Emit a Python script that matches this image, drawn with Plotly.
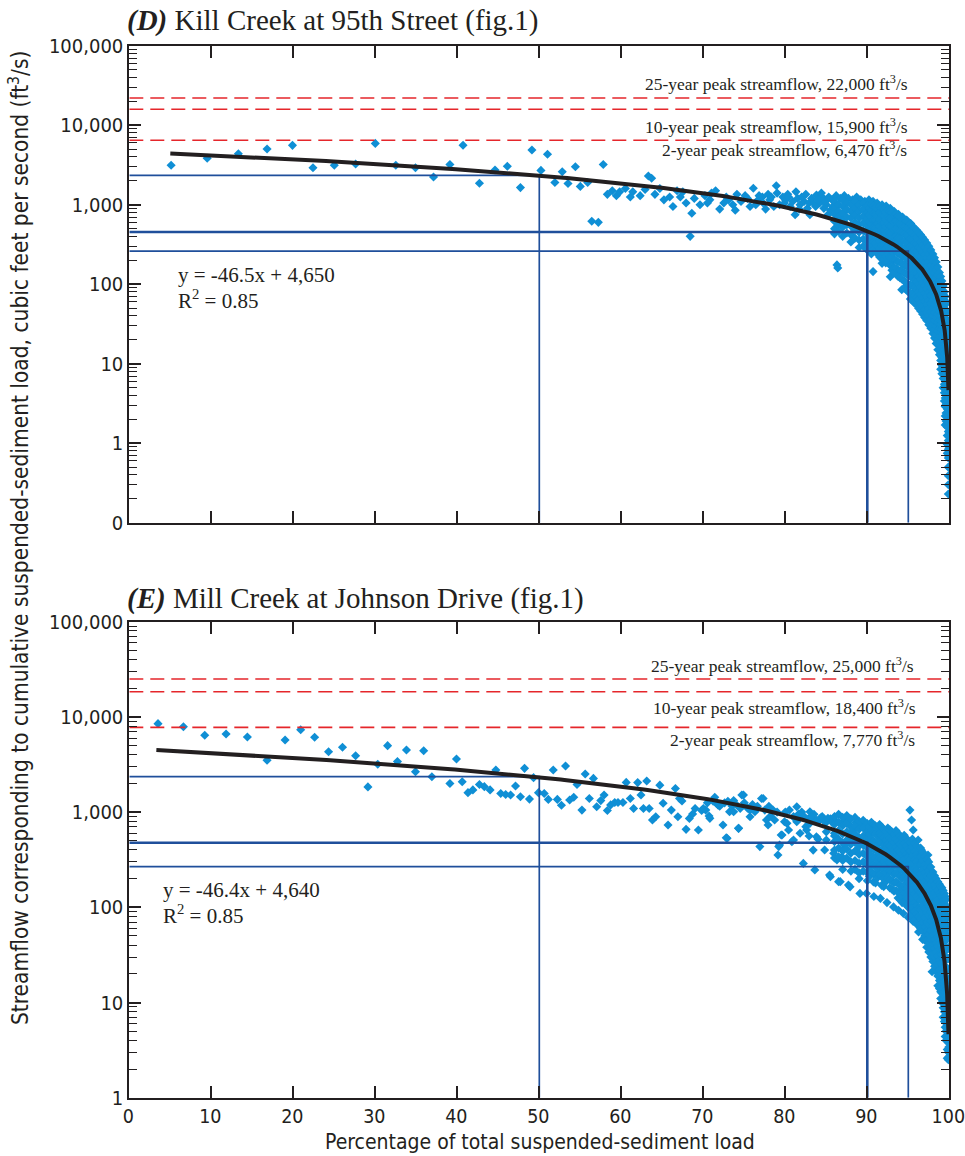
import numpy as np
import plotly.graph_objects as go

W, H = 965, 1156

# ---------------- Kill Creek at 95th Street ----------------
# scattered daily values (percent of total load, streamflow ft3/s)
kill_pct = [
    5.1, 9.5, 13.3, 16.8, 19.9, 22.4, 25.0, 27.6, 30.0, 32.5, 34.9, 37.1, 39.1, 40.7,
    42.7, 44.6, 46.1, 47.7, 49.1, 50.2, 51.0,
    51.9, 52.8, 53.5, 54.4, 55.0, 55.9, 56.4, 57.2, 57.8, 58.3, 58.9, 59.4, 59.8, 60.5,
    61.1, 61.4, 62.3, 62.9, 63.3, 63.7, 64.1, 64.7, 65.2, 65.9, 66.3, 66.8, 67.2, 67.5,
    67.9, 68.4, 68.6, 68.9, 69.6, 70.2, 70.8, 71.5, 72.0, 72.5, 73.1, 73.6, 74.1, 74.6,
    75.1, 75.7, 76.1, 76.7, 77.2, 77.6, 78.1, 78.9, 79.3, 80.0, 80.6, 81.2, 81.8, 82.3,
    83.0, 83.8, 84.2, 84.7, 85.2, 85.7, 86.3, 86.4,
    70.5, 71.0, 72.8, 73.9, 75.4, 76.4, 77.9, 79.7, 80.3, 81.5, 82.7, 83.4, 84.5, 85.0, 85.5,
    76.8, 77.3, 78.3, 78.6, 79.0, 79.9, 80.4, 80.9, 81.3, 81.7, 82.0, 82.5, 82.9, 83.2,
    83.7, 84.0, 84.4, 84.9, 85.3, 85.8, 86.2, 86.7, 87.2, 87.7, 88.2, 88.7, 89.2, 89.7,
    90.2, 90.7, 91.2, 91.8, 92.3, 92.8, 93.3, 93.8, 94.3, 94.8, 95.3,
    90.7, 91.8, 92.8, 93.6, 94.2,
]
kill_flow = [
    3130, 3840, 4380, 5010, 5580, 2920, 3130, 3250, 5900, 3130, 2920, 2230, 3200, 5600,
    1860, 2730, 3040, 1640, 4870, 2700, 4320,
    1900, 2600, 1850, 3000, 1700, 1900, 620, 600, 3200, 1350, 1500, 1300, 1450, 1600,
    1250, 1450, 1300, 1550, 2300, 2150, 1350, 1600, 1150, 1250, 950, 1500, 1250, 1450,
    1050, 400, 780, 1200, 1000, 1300, 1150, 1500, 880, 1050, 1150, 1000, 1350, 1100,
    1300, 950, 1610, 1150, 1250, 880, 1150, 1730, 1000, 1150, 950, 750, 1000, 1100,
    750, 1320, 1050, 900, 750, 1150, 175, 160,
    1050, 1400, 1250, 850, 1200, 1000, 1350, 1250, 1350, 1200, 900, 1050, 1250, 1000, 850,
    1300, 1050, 1250, 950, 1400, 1050, 1250, 1100, 1450, 880, 1250, 1350, 1050, 1200,
    950, 1150, 1400, 1100, 1250, 950, 1300, 1200, 1300, 1200, 1150, 1250, 1150, 1100,
    1150, 1100, 1050, 1000, 960, 900, 820, 760, 700, 640, 580,
    144, 183, 124, 137, 85,
]

# dense tail of the distribution, read column by column
kill_band_pct = (
    [86.0] * 6 + [86.5] * 5 + [87.0] * 6 + [87.5] * 5 + [88.0] * 6 + [88.5] * 6 +
    [89.0] * 7 + [89.5] * 7 + [90.0] * 7 + [90.25] * 7 + [90.5] * 8 + [90.75] * 7 +
    [91.0] * 7 + [91.25] * 7 + [91.5] * 8 + [91.75] * 8 + [92.0] * 8 + [92.25] * 8 +
    [92.5] * 8 + [92.75] * 8 + [93.0] * 9 + [93.25] * 9 + [93.5] * 8 + [93.75] * 9 +
    [94.0] * 9 + [94.25] * 9 + [94.5] * 10 + [94.75] * 10 + [95.0] * 10 + [95.25] * 11 +
    [95.5] * 11 + [95.75] * 11 + [96.0] * 11 + [96.25] * 11 + [96.5] * 11 + [96.75] * 11 +
    [97.0] * 11 + [97.25] * 11 + [97.5] * 11 + [97.75] * 11 + [98.0] * 11 + [98.2] * 11 +
    [98.4] * 11 + [98.6] * 11 + [98.8] * 11 + [98.95] * 12 + [99.1] * 12 + [99.25] * 13 +
    [99.4] * 14 + [99.5] * 16 + [99.6] * 15 + [99.75] * 17 + [99.88] * 20 + [99.95] * 13
)
kill_band_flow = [
    1100, 900, 760, 620, 500, 430,
    1000, 820, 700, 560, 460,
    1150, 950, 780, 640, 520, 400,
    1050, 870, 700, 560, 440,
    1000, 820, 680, 540, 420, 340,
    1100, 900, 740, 600, 480, 380,
    1000, 830, 680, 560, 450, 360, 290,
    1050, 880, 720, 590, 470, 370, 300,
    980, 800, 660, 540, 430, 340, 270,
    900, 740, 610, 500, 400, 320, 260,
    1000, 850, 700, 570, 450, 360, 290, 240,
    960, 780, 640, 520, 420, 340, 270,
    930, 760, 630, 510, 410, 330, 260,
    880, 720, 580, 470, 380, 300, 240,
    950, 800, 650, 530, 430, 350, 280, 220,
    900, 740, 600, 490, 390, 310, 250, 210,
    880, 720, 590, 480, 390, 310, 250, 205,
    800, 650, 530, 430, 350, 280, 225, 185,
    860, 700, 570, 460, 370, 300, 240, 190,
    820, 670, 540, 440, 350, 280, 220, 175,
    800, 650, 530, 430, 350, 280, 220, 170, 150,
    740, 600, 480, 390, 310, 250, 200, 160, 140,
    760, 620, 500, 400, 320, 260, 200, 160,
    720, 580, 470, 380, 300, 240, 190, 150, 125,
    700, 570, 460, 370, 300, 240, 190, 150, 120,
    660, 540, 440, 350, 280, 225, 180, 145, 115,
    650, 530, 430, 350, 280, 220, 175, 140, 110, 90,
    620, 500, 410, 330, 265, 210, 170, 135, 105, 85,
    600, 490, 400, 320, 260, 210, 165, 130, 100, 80,
    570, 460, 370, 300, 240, 195, 155, 125, 98, 78, 65,
    540, 440, 360, 290, 230, 185, 150, 120, 95, 75, 62,
    510, 410, 330, 270, 215, 175, 140, 112, 90, 72, 58,
    480, 390, 320, 260, 210, 170, 135, 108, 86, 68, 55,
    450, 360, 290, 235, 190, 155, 125, 100, 80, 64, 50,
    420, 340, 280, 225, 180, 145, 115, 92, 74, 58, 46,
    390, 310, 250, 200, 165, 130, 105, 84, 67, 53, 42,
    360, 290, 235, 190, 150, 120, 96, 77, 61, 48, 38,
    330, 265, 215, 170, 135, 110, 88, 70, 56, 44, 35,
    300, 240, 195, 155, 125, 100, 80, 63, 50, 40, 31,
    270, 215, 175, 140, 112, 90, 72, 57, 45, 36, 28,
    240, 195, 155, 125, 100, 80, 63, 50, 40, 31, 24,
    215, 170, 138, 110, 88, 70, 56, 44, 35, 27, 21,
    190, 150, 120, 96, 77, 61, 48, 38, 30, 23, 18,
    165, 130, 105, 84, 67, 53, 42, 33, 26, 20, 15,
    140, 112, 90, 71, 56, 45, 35, 28, 22, 17, 13,
    125, 100, 79, 63, 50, 40, 31, 25, 19, 15, 11, 8.5,
    110, 86, 68, 54, 43, 34, 27, 21, 16, 12, 9.5, 7.5,
    95, 75, 59, 47, 37, 29, 23, 18, 14, 11, 8.2, 6.5, 5,
    80, 63, 50, 40, 31, 25, 19, 15, 12, 9, 7, 5.5, 4.3, 3.4,
    70, 55, 43, 34, 27, 21, 16.5, 13, 10, 7.8, 6, 4.7, 3.7, 2.9, 2.2, 1.7,
    60, 47, 37, 29, 23, 18, 14, 11, 8.5, 6.6, 5.2, 4, 3.1, 2.4, 1.9,
    45, 35, 27, 21, 16, 12.5, 9.7, 7.5, 5.8, 4.5, 3.5, 2.7, 2.1, 1.6, 1.25, 0.97, 0.75,
    30, 23, 18, 14, 11, 8.5, 6.5, 5, 3.9, 3, 2.3, 1.8, 1.4, 1.08, 0.84, 0.65, 0.5, 0.39,
    0.3, 0.23,
    15, 11, 8.5, 6.4, 4.9, 3.7, 2.8, 2.1, 1.6, 1.2, 0.9, 0.68, 0.5,
]

# ---------------- Mill Creek at Johnson Drive ----------------
mill_pct = [
    3.5, 6.6, 9.2, 11.8, 14.4, 16.8, 19.0, 20.9, 22.6, 24.3, 26.0, 27.6, 29.1, 30.3,
    31.5, 32.7, 33.8, 34.9, 35.9, 36.9, 39.9,
    39.1, 40.6, 41.3, 41.9, 42.7, 43.3, 44.0, 44.7, 45.3, 45.9, 46.5, 47.1, 47.7, 48.2,
    48.8, 49.3, 49.9, 50.6, 51.1, 51.7, 52.2, 52.7, 53.2, 53.7, 54.2, 54.6, 55.2, 55.6,
    56.1, 56.6, 57.0, 57.5, 57.9, 58.3, 58.7, 59.2, 59.6, 60.2, 60.6, 61.1, 61.5, 62.0,
    62.4, 62.7, 63.1, 63.4, 63.8, 64.2, 64.7, 65.1, 65.7, 66.1, 66.6, 66.9, 67.1, 67.4,
    67.9, 68.3, 68.7, 69.0, 69.4, 69.8, 70.3, 70.7, 71.4, 71.8, 72.4, 72.8, 73.2, 73.5,
    73.7, 74.3, 74.5, 74.9, 75.7, 76.3, 76.9, 77.3, 77.7, 78.2, 78.7, 79.1, 79.3, 79.5,
    79.9, 80.4, 81.0, 81.4, 81.4, 81.8, 82.2, 82.5, 83.0, 83.4, 83.6, 83.8, 84.6, 85.0,
    85.4, 85.9, 86.5, 86.9, 87.7,
    70.0, 70.8, 71.8, 72.9, 73.7, 74.3, 74.7, 75.7, 77.1, 77.9, 79.2, 79.6, 80.2, 80.8,
    82.6, 83.0, 84.2, 84.8, 85.5, 86.3, 86.7, 87.1, 87.5, 87.9, 88.3, 88.7, 89.1, 89.5,
    80.5, 81.0, 82.0, 82.8, 83.5, 84.0, 84.5, 85.0, 85.5,
    70.5, 71.2, 72.0, 72.6, 73.0, 74.0, 75.0, 75.4, 76.0, 76.6, 77.5, 78.0, 78.5, 79.0,
    80.0, 81.2, 81.6, 82.3, 83.2, 83.8, 84.3, 84.8, 85.2, 85.7, 86.2, 86.8, 87.3, 87.8,
    88.6, 89.2, 89.7,
    81.8, 82.9, 84.0, 85.0, 86.0, 87.2, 88.0, 88.9,
    89.9, 90.8, 91.6, 92.4, 93.2, 93.8, 94.4, 95.0, 95.6, 96.0, 96.4,
    95.2, 95.4, 95.6, 96.2, 96.6, 97.4, 97.9,
]
mill_flow = [
    8490, 7890, 6410, 6610, 6150, 3500, 5710, 7340, 6110, 4310, 4800, 3910, 1840, 3180,
    4990, 3390, 4490, 2650, 4410, 2350, 3610,
    2000, 2080, 1600, 1710, 1950, 1850, 1710, 2770, 1570, 1530, 1510, 1880, 1450, 2880,
    1370, 2300, 1600, 1570, 1360, 2770, 1360, 1180, 3050, 1340, 1430, 1950, 1050, 2510,
    1390, 2260, 1140, 1320, 1510, 1040, 1190, 1260, 1260, 1260, 2050, 1390, 1090, 2040,
    1510, 1090, 2120, 1090, 826, 895, 1920, 1240, 731, 1050, 1770, 895, 1390, 1310,
    659, 859, 955, 1090, 649, 1040, 1050, 910, 1430, 1190, 731, 538, 1010, 1160,
    1320, 675, 1090, 1510, 895, 1010, 434, 1390, 826, 910, 826, 354, 451, 574,
    792, 649, 509, 1140, 792, 931, 289, 703, 1010, 399, 247, 551, 826, 509,
    218, 369, 186, 340, 171,
    1090, 860, 1190, 530, 1010, 675, 1510, 1050, 1390, 731, 434, 574, 762, 489,
    649, 762, 826, 400, 209, 314, 186, 762, 509, 164, 649, 400, 140, 762,
    1050, 900, 1000, 850, 950, 800, 900, 780, 850,
    1250, 1300, 1150, 1250, 1300, 1200, 1250, 1100, 1200, 1150, 1050, 1150, 1050, 1000,
    1000, 850, 950, 900, 880, 820, 870, 800, 860, 780, 800, 760, 820, 740,
    780, 720, 700,
    600, 560, 520, 620, 560, 450, 520, 480,
    140, 130, 124, 112, 101, 93, 86, 78, 71, 67, 65,
    1050, 826, 649, 509, 400, 354, 21,
]

mill_band_pct = (
    [86.0] * 6 + [86.5] * 6 + [87.0] * 7 + [87.5] * 6 + [88.0] * 7 + [88.5] * 7 +
    [89.0] * 8 + [89.5] * 7 + [90.0] * 8 + [90.25] * 7 + [90.5] * 7 + [90.75] * 8 +
    [91.0] * 8 + [91.25] * 7 + [91.5] * 7 + [91.75] * 8 + [92.0] * 8 + [92.25] * 7 +
    [92.5] * 7 + [92.75] * 8 + [93.0] * 8 + [93.25] * 8 + [93.5] * 8 + [93.75] * 9 +
    [94.0] * 9 + [94.25] * 9 + [94.5] * 9 + [94.75] * 9 + [95.0] * 9 + [95.25] * 10 +
    [95.5] * 10 + [95.75] * 10 + [96.0] * 10 + [96.25] * 11 + [96.5] * 10 + [96.75] * 11 +
    [97.0] * 11 + [97.25] * 11 + [97.5] * 11 + [97.75] * 11 + [98.0] * 11 + [98.2] * 11 +
    [98.4] * 11 + [98.6] * 12 + [98.8] * 12 + [98.95] * 13 + [99.1] * 13 + [99.25] * 14 +
    [99.4] * 14 + [99.5] * 15 + [99.6] * 15 + [99.75] * 16 + [99.88] * 15 + [99.95] * 12
)
mill_band_flow = [
    900, 740, 600, 490, 400, 330,
    950, 780, 640, 520, 420, 340,
    880, 720, 590, 480, 390, 310, 250,
    920, 760, 620, 500, 410, 330,
    850, 700, 570, 460, 370, 300, 240,
    880, 720, 590, 480, 390, 310, 250,
    800, 660, 540, 440, 360, 290, 230, 200,
    820, 680, 560, 450, 370, 300, 240,
    760, 620, 510, 420, 340, 280, 230, 190,
    700, 580, 470, 390, 320, 260, 210,
    780, 640, 520, 430, 350, 290, 235,
    740, 610, 500, 410, 340, 280, 225, 185,
    720, 590, 480, 400, 330, 270, 220, 180,
    680, 560, 460, 380, 310, 250, 205,
    740, 600, 490, 400, 330, 270, 220,
    700, 570, 470, 385, 315, 255, 210, 170,
    660, 540, 450, 370, 300, 250, 200, 165,
    620, 510, 420, 345, 280, 230, 185,
    680, 560, 460, 380, 310, 250, 205,
    650, 530, 440, 360, 295, 240, 195, 160,
    620, 510, 420, 350, 290, 235, 190, 155,
    590, 480, 400, 330, 270, 220, 180, 148,
    640, 520, 430, 350, 290, 230, 185, 150,
    600, 490, 400, 330, 270, 220, 178, 145, 125,
    560, 460, 380, 310, 255, 210, 170, 140, 120,
    540, 440, 365, 300, 245, 200, 162, 132, 112,
    570, 470, 390, 320, 260, 210, 170, 140, 115,
    530, 440, 360, 295, 240, 195, 158, 128, 105,
    500, 410, 340, 280, 230, 185, 150, 125, 100,
    480, 390, 320, 265, 215, 175, 142, 115, 95, 80,
    520, 430, 350, 290, 235, 190, 155, 125, 100, 82,
    470, 385, 315, 255, 210, 170, 138, 112, 90, 74,
    440, 360, 300, 245, 200, 160, 130, 105, 85, 68,
    420, 340, 280, 230, 185, 150, 122, 98, 80, 64, 55,
    420, 340, 280, 225, 180, 145, 118, 95, 76, 60,
    380, 310, 250, 205, 165, 132, 106, 86, 69, 56, 46,
    340, 280, 230, 185, 150, 120, 97, 78, 62, 50, 45,
    320, 260, 212, 172, 138, 110, 88, 70, 56, 45, 38,
    300, 245, 200, 160, 128, 102, 82, 65, 52, 42, 34,
    265, 215, 175, 140, 112, 90, 72, 57, 46, 37, 30,
    235, 190, 155, 125, 100, 80, 64, 51, 41, 33, 27,
    215, 175, 142, 114, 91, 73, 58, 46, 37, 30, 24,
    200, 160, 130, 104, 83, 66, 53, 42, 34, 27, 21,
    185, 150, 120, 96, 77, 61, 49, 39, 31, 25, 19, 15,
    175, 140, 112, 90, 72, 57, 45, 36, 28, 22, 17, 14,
    165, 132, 105, 84, 67, 53, 42, 33, 26, 21, 16.5, 13, 11,
    160, 128, 102, 81, 64, 51, 40, 32, 25, 20, 16, 12.5, 10,
    150, 118, 93, 74, 58, 46, 36, 29, 23, 18, 14, 11, 8.8, 7,
    140, 110, 87, 69, 54, 43, 34, 27, 21, 16.5, 13, 10.2, 8, 6.3,
    130, 102, 80, 63, 50, 39, 31, 24, 19, 15, 11.5, 9, 7, 5.5, 4.4,
    120, 94, 74, 58, 46, 36, 28, 22, 17, 13.5, 10.5, 8.2, 6.4, 5, 4,
    100, 78, 61, 48, 37, 29, 23, 18, 14, 11, 8.5, 6.6, 5.2, 4, 3.2, 2.6,
    80, 62, 48, 37, 29, 22, 17, 13.5, 10.5, 8.1, 6.3, 4.9, 3.8, 3.0, 2.5,
    50, 38, 29, 22, 17, 13, 10, 7.6, 5.8, 4.4, 3.4, 2.7,
]

# linear fits  y = slope * x + intercept   (slope, intercept, first pct, last pct, R2)
kill_fit = (-46.5, 4650, 5.0, 99.9, 0.85)
mill_fit = (-46.4, 4640, 3.3, 99.9, 0.85)

# recurrence-interval peak streamflows (ft3/s)
peak_years = [25, 10, 2]
kill_peaks = [22000, 15900, 6470]
mill_peaks = [25000, 18400, 7770]

# percentile drop lines (percent of load, streamflow)
ref_pct = [50, 90, 95]
kill_ref_flow = [2340, 453, 261]
mill_ref_flow = [2360, 477, 267]

# ---------------- styling ----------------
INK = "#231f20"
PT_BLUE = "#0f8fd5"
LINE_BLUE = "#1f4f9b"
RED = "#e5262b"
SERIF = "Liberation Serif, Times New Roman, serif"
SANS = "DejaVu Sans Condensed, Liberation Sans Narrow, Arial Narrow, sans-serif"

X0, X1 = 129.3 / W, 949.3 / W
TOP_DOM = [1 - 522.7 / H, 1 - 45.7 / H]
BOT_DOM = [1 - 1097.7 / H, 1 - 621.7 / H]

fig = go.Figure()


def add_panel(pct, flow, fit, peaks, ref_flow, xa, ya, ymin):
    fig.add_trace(go.Scatter(
        x=pct, y=flow, mode="markers", xaxis=xa, yaxis=ya,
        marker=dict(symbol="diamond", size=7, color=PT_BLUE, line=dict(width=0)),
        showlegend=False, hoverinfo="skip"))
    for q in peaks:
        fig.add_trace(go.Scatter(
            x=[0, 100], y=[q, q], mode="lines", xaxis=xa, yaxis=ya,
            line=dict(color=RED, width=1.6, dash="14px,7px"),
            showlegend=False, hoverinfo="skip"))
    for i, (p, q) in enumerate(zip(ref_pct, ref_flow)):
        w = 2.6 if i == 1 else 1.7
        fig.add_trace(go.Scatter(
            x=[0, p, p], y=[q, q, ymin], mode="lines", xaxis=xa, yaxis=ya,
            line=dict(color=LINE_BLUE, width=w),
            showlegend=False, hoverinfo="skip"))
    slope, icpt, xs, xe, _ = fit
    xx = np.concatenate([np.linspace(xs, 95, 200), np.linspace(95, xe, 400)])
    fig.add_trace(go.Scatter(
        x=xx, y=slope * xx + icpt, mode="lines", xaxis=xa, yaxis=ya,
        line=dict(color=INK, width=4),
        showlegend=False, hoverinfo="skip"))


add_panel(kill_pct + kill_band_pct, kill_flow + kill_band_flow, kill_fit,
          kill_peaks, kill_ref_flow, "x", "y", 0.1)
add_panel(mill_pct + mill_band_pct, mill_flow + mill_band_flow, mill_fit,
          mill_peaks, mill_ref_flow, "x2", "y2", 1)


def minor_vals(lo, hi):
    return [m * 10.0 ** k for k in range(lo, hi) for m in range(2, 10)]


xcommon = dict(
    range=[0, 100], dtick=10, tick0=0, ticks="inside", ticklen=12, tickwidth=1.5,
    tickcolor=INK, showline=True, linewidth=2, linecolor=INK, mirror="ticks",
    showgrid=False, zeroline=False, automargin=False, domain=[X0, X1],
    ticklabeloverflow="allow", ticklabelshift=-1,
    tickfont=dict(family=SANS, size=19.5, color=INK),
)
ycommon = dict(
    type="log", ticks="inside", ticklen=12, tickwidth=1.5, tickcolor=INK,
    showline=True, linewidth=2, linecolor=INK, mirror="ticks",
    showgrid=False, zeroline=False, automargin=False, tickmode="array",
    ticklabeloverflow="allow",
    tickfont=dict(family=SANS, size=20, color=INK),
)

fig.update_layout(
    width=W, height=H,
    margin=dict(l=0, r=0, t=0, b=0),
    paper_bgcolor="white", plot_bgcolor="white",
    xaxis=dict(xcommon, anchor="y", showticklabels=False),
    yaxis=dict(ycommon, anchor="x", domain=TOP_DOM, range=[-1, 5],
               tickvals=[0.1, 1, 10, 100, 1000, 10000, 100000],
               ticktext=["0", "1", "10", "100", "1,000", "10,000", "100,000"],
               minor=dict(tickmode="array", tickvals=minor_vals(-1, 5),
                          ticks="inside", ticklen=8, tickwidth=1.3, tickcolor=INK)),
    xaxis2=dict(xcommon, anchor="y2"),
    yaxis2=dict(ycommon, anchor="x2", domain=BOT_DOM, range=[0, 5],
                tickvals=[1, 10, 100, 1000, 10000, 100000],
                ticktext=["1", "10", "100", "1,000", "10,000", "100,000"],
                minor=dict(tickmode="array", tickvals=minor_vals(0, 5),
                           ticks="inside", ticklen=8, tickwidth=1.3, tickcolor=INK)),
)


def px(xp, yp):
    return xp / W, 1 - yp / H


annots = []


def note(text, xp, yp, size, family=SERIF, xanchor="left", angle=0):
    x, y = px(xp, yp)
    annots.append(dict(
        text=text, x=x, y=y, xref="paper", yref="paper", showarrow=False,
        xanchor=xanchor, yanchor="middle", textangle=angle,
        font=dict(family=family, size=size, color=INK)))


note("<b><i>(D)</i></b> Kill Creek at 95th Street (fig.1)", 125, 20, 29)
note("<b><i>(E)</i></b> Mill Creek at Johnson Drive (fig.1)", 125, 598, 29)

for n, q, xp, yp in zip(peak_years, kill_peaks, [643, 643, 660], [83, 126, 149]):
    note(f"{n}-year peak streamflow, {q:,} ft<sup>3</sup>/s", xp, yp, 17.5)
for n, q, xp, yp in zip(peak_years, mill_peaks, [649, 651, 668], [665, 707, 739]):
    note(f"{n}-year peak streamflow, {q:,} ft<sup>3</sup>/s", xp, yp, 17.5)

for fit, x0, y0 in [(kill_fit, 176, 275), (mill_fit, 161, 890)]:
    slope, icpt, _, _, r2 = fit
    note(f"y = {slope}x + {icpt:,}", x0, y0, 21)
    note(f"R<sup>2</sup> = {r2}", x0, y0 + 24, 21)

note("Percentage of total suspended-sediment load", 540, 1142, 21, family=SANS, xanchor="center")
note("Streamflow corresponding to cumulative suspended-sediment load, cubic feet per second (ft<sup>3</sup>/s)",
     18, 538, 22.5, family=SANS, xanchor="center", angle=-90)

fig.update_layout(annotations=annots)
fig.write_html("out.html")
